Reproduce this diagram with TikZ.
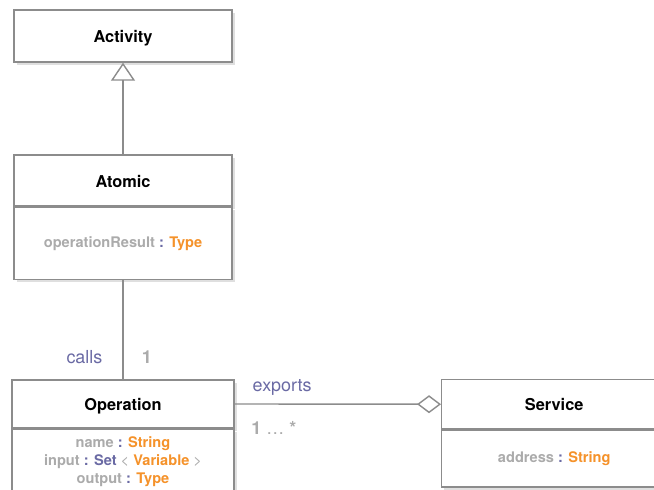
\documentclass[tikz,border=0pt]{standalone}
\usepackage{fontspec}
\setmainfont{TeX Gyre Heros}
\usetikzlibrary{arrows.meta,shadows}

\definecolor{umlgray}{HTML}{8C8C8C}
\definecolor{attrgray}{HTML}{ABABAB}
\definecolor{umlblue}{HTML}{6A6AA4}
\definecolor{umlorange}{HTML}{F5922A}

\newcommand{\attr}[2]{\textcolor{attrgray}{#1} \textcolor{umlblue}{:} \textcolor{umlorange}{#2}}

\begin{document}
\begin{tikzpicture}[
    classbox/.style={draw=umlgray, line width=0.8pt, fill=white, rectangle,
      drop shadow={shadow xshift=1.5pt, shadow yshift=-1.5pt, opacity=0.25},
      text height=0.74em, text depth=0pt,
      font=\fontsize{9.3}{11}\selectfont\bfseries},
    attrbox/.style={classbox, align=center, text height=, text depth=,
      font=\fontsize{8.3}{10.2}\selectfont\bfseries},
    link/.style={draw=umlgray, line width=0.8pt},
    role/.style={font=\fontsize{10.2}{12}\selectfont, text=umlblue},
    mult/.style={font=\fontsize{10.2}{12}\selectfont\bfseries, text=attrgray}
  ]
  \useasboundingbox (0,0) rectangle (13.08,9.78);
  \clip (0,0) rectangle (13.08,9.78);

  % Classes
  \node[classbox, minimum width=4.36cm, minimum height=1.04cm] (activity) at (2.46,9.06) {Activity};

  \node[classbox, minimum width=4.36cm, minimum height=1.02cm] (atomic) at (2.46,6.17) {Atomic};
  \node[attrbox, minimum width=4.36cm, minimum height=1.44cm, anchor=north] (atomic-attr) at (atomic.south)
    {\attr{operationResult}{Type}};

  \node[classbox, minimum width=4.44cm, minimum height=0.96cm] (operation) at (2.46,1.70) {Operation};
  \node[attrbox, minimum width=4.44cm, minimum height=1.28cm, anchor=north] (operation-attr) at (operation.south)
    {\attr{name}{String}\\
     \textcolor{attrgray}{input} \textcolor{umlblue}{: Set} \textcolor{attrgray}{\mdseries <} \textcolor{umlorange}{Variable} \textcolor{attrgray}{\mdseries >}\\
     \attr{output}{Type}};

  \node[classbox, minimum width=4.5cm, minimum height=0.98cm, anchor=north west] (service) at (8.82,2.20) {Service};
  \node[attrbox, minimum width=4.5cm, minimum height=1.14cm, anchor=north] (service-attr) at (service.south)
    {\attr{address}{String}};

  % Generalization
  \draw[link, -{Triangle[width=0.48cm, length=0.36cm, fill=white]}] (atomic) -- (activity);

  % Association
  \draw[link] (atomic-attr) -- node[pos=0.78, role, left=8pt] {calls}
    node[pos=0.78, mult, right=7pt] {1} (operation);

  % Aggregation
  \draw[link, -{Diamond[length=0.48cm, width=0.36cm, fill=white]}] (operation.east) -- (service.west)
    node[pos=0.23, role, above=1pt] {exports}
    node[pos=0.19, mult, below=6pt] {1 \mdseries…\bfseries{} *};
\end{tikzpicture}
\end{document}
